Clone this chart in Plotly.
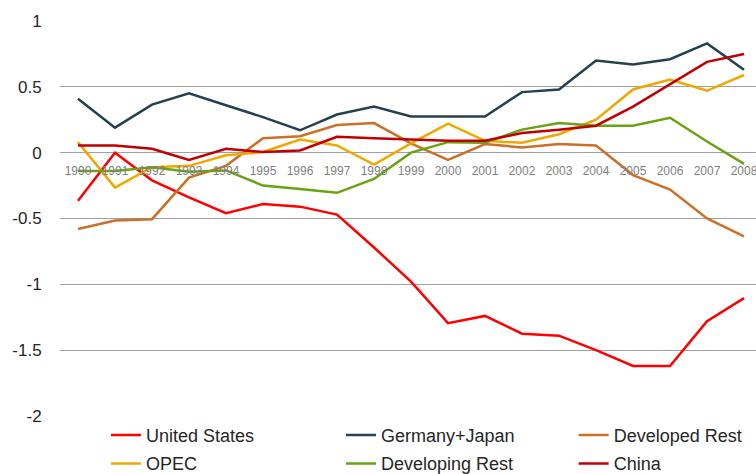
import plotly.graph_objects as go

years = list(range(1990, 2009))

united_states = [-0.365, 0.0, -0.21, -0.34, -0.46, -0.39, -0.41, -0.47, -0.72, -0.98,
                 -1.295, -1.24, -1.375, -1.39, -1.5, -1.62, -1.62, -1.28, -1.105]
germany_japan = [0.41, 0.19, 0.365, 0.45, 0.36, 0.27, 0.17, 0.29, 0.35, 0.275,
                 0.275, 0.275, 0.46, 0.48, 0.70, 0.67, 0.71, 0.83, 0.63]
developed_rest = [-0.58, -0.515, -0.505, -0.19, -0.10, 0.11, 0.125, 0.21, 0.225, 0.07,
                  -0.055, 0.065, 0.04, 0.065, 0.055, -0.17, -0.28, -0.50, -0.635]
opec = [0.08, -0.265, -0.11, -0.10, -0.02, 0.005, 0.10, 0.055, -0.09, 0.07,
        0.22, 0.09, 0.075, 0.14, 0.25, 0.48, 0.555, 0.47, 0.59]
developing_rest = [-0.14, -0.14, -0.11, -0.145, -0.135, -0.25, -0.275, -0.305, -0.20, 0.0,
                   0.08, 0.075, 0.175, 0.225, 0.205, 0.205, 0.265, 0.085, -0.085]
china = [0.055, 0.055, 0.03, -0.055, 0.03, 0.005, 0.017, 0.12, 0.11, 0.10,
         0.09, 0.09, 0.15, 0.175, 0.205, 0.35, 0.52, 0.69, 0.75]

y_tickvals = [1, 0.5, 0, -0.5, -1, -1.5, -2]
y_ticktext = ["1", "0.5", "0", "-0.5", "-1", "-1.5", "-2"]

series = [
    ("United States", united_states, "#FF0000", "legend"),
    ("Germany+Japan", germany_japan, "#25404F", "legend2"),
    ("Developed Rest", developed_rest, "#CC7029", "legend3"),
    ("OPEC", opec, "#F0A800", "legend"),
    ("Developing Rest", developing_rest, "#6AA212", "legend2"),
    ("China", china, "#C00000", "legend3"),
]

fig = go.Figure()
for i, (name, vals, color, lg) in enumerate(series):
    fig.add_trace(go.Scatter(
        x=years, y=vals, name=name, mode="lines",
        line=dict(color=color, width=2.5),
        legend=lg, legendgroup=name,
    ))

legend_font = dict(family="Liberation Sans, Arial, sans-serif", size=18, color="#262626")
common_legend = dict(orientation="v", yanchor="top", y=-0.002, xanchor="left",
                     font=legend_font, itemwidth=30, tracegroupgap=2,
                     bgcolor="rgba(0,0,0,0)", borderwidth=0)

fig.update_layout(
    width=756, height=474,
    margin=dict(l=60, r=0, t=21, b=58, autoexpand=False),
    paper_bgcolor="white", plot_bgcolor="white",
    showlegend=True,
    legend=dict(common_legend, x=0.066),
    legend2=dict(common_legend, x=0.4037),
    legend3=dict(common_legend, x=0.738),
    xaxis=dict(
        range=[1989.514, 2008.324],
        tickmode="array", tickvals=years, ticktext=[str(y) for y in years],
        showgrid=False, zeroline=False, showline=False,
        ticks="outside", ticklen=7, tickcolor="rgba(0,0,0,0)",
        ticklabeloverflow="allow",
        tickfont=dict(family="Liberation Sans, Arial, sans-serif", size=12, color="#7F7F7F"),
        anchor="free", position=2/3,
    ),
    yaxis=dict(
        range=[-2, 1],
        tickmode="array", tickvals=y_tickvals, ticktext=y_ticktext,
        showgrid=True, gridcolor="#A0A0A0", gridwidth=1.4,
        zeroline=False, showline=False,
        ticks="outside", ticklen=14, tickcolor="rgba(0,0,0,0)",
        tickfont=dict(family="Liberation Sans, Arial, sans-serif", size=17, color="#262626"),
    ),
)

fig.write_html(
    "out.html",
    config={"displayModeBar": False},
    post_script="document.body.style.margin='0';document.body.style.overflow='hidden';",
)
